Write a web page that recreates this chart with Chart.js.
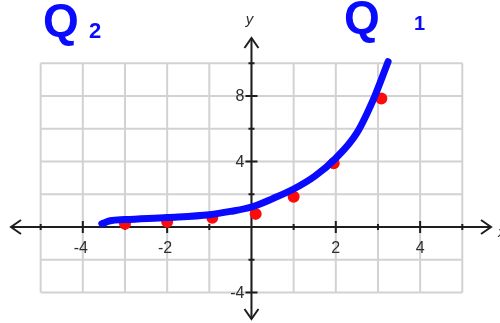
<!DOCTYPE html>
<html>
<head>
<meta charset="utf-8">
<script src="https://cdn.jsdelivr.net/npm/chart.js@4/dist/chart.umd.min.js"></script>
<style>
  html, body { margin: 0; padding: 0; background: #ffffff; }
  #wrap { width: 500px; height: 323px; }
</style>
</head>
<body>
<div id="wrap"><canvas id="c" width="500" height="323"></canvas></div>
<script>
// Plotted points of y = 2^x (red dots)
const dotX = [-3, -2, -0.93, 0.1, 1.0, 1.95, 3.08];
const dotY = [0.2, 0.32, 0.56, 0.8, 1.85, 3.9, 7.85];

// Sketched curve through the points (blue)
const curveX = [-3.55, -3.35, -3.0, -2.0, -1.0, -0.5, 0.0, 0.5, 1.0, 1.5, 2.0, 2.5, 2.92, 3.24];
const curveY = [0.2, 0.38, 0.45, 0.58, 0.75, 0.95, 1.22, 1.73, 2.32, 3.1, 4.2, 5.75, 7.97, 10.1];

// Grid extent and axis tick labels
const gridX = [-5, 5];
const gridY = [-4, 10];
const xTickLabels = [-4, -2, 2, 4];
const yTickLabels = [8, 4, -4];

const toPts = (xs, ys) => xs.map((x, i) => ({ x: x, y: ys[i] }));

const gridPlugin = {
  id: 'gridPlugin',
  beforeDatasetsDraw(chart) {
    const ctx = chart.ctx;
    const xs = chart.scales.x, ys = chart.scales.y;
    const px = v => xs.getPixelForValue(v);
    const py = v => ys.getPixelForValue(v);
    ctx.save();
    // light grid
    ctx.strokeStyle = '#d2d2d2';
    ctx.lineWidth = 2;
    ctx.beginPath();
    for (let v = gridX[0]; v <= gridX[1]; v++) {
      ctx.moveTo(px(v), py(gridY[0]));
      ctx.lineTo(px(v), py(gridY[1]));
    }
    for (let v = gridY[0]; v <= gridY[1]; v += 2) {
      ctx.moveTo(px(gridX[0]), py(v));
      ctx.lineTo(px(gridX[1]), py(v));
    }
    ctx.stroke();

    // axes
    const x0 = px(0), y0 = py(0);
    ctx.strokeStyle = '#1e1e1e';
    ctx.lineWidth = 2;
    ctx.beginPath();
    ctx.moveTo(11, y0); ctx.lineTo(491, y0);
    ctx.moveTo(x0, 38); ctx.lineTo(x0, 319);
    ctx.stroke();
    // arrowheads
    ctx.beginPath();
    ctx.moveTo(21, y0 - 7); ctx.lineTo(11, y0); ctx.lineTo(21, y0 + 7);
    ctx.moveTo(481, y0 - 7); ctx.lineTo(491, y0); ctx.lineTo(481, y0 + 7);
    ctx.moveTo(x0 - 7, 48); ctx.lineTo(x0, 38); ctx.lineTo(x0 + 7, 48);
    ctx.moveTo(x0 - 7, 309); ctx.lineTo(x0, 319); ctx.lineTo(x0 + 7, 309);
    ctx.stroke();

    // tick marks
    ctx.beginPath();
    for (let v = gridX[0]; v <= gridX[1]; v++) {
      if (v === 0) continue;
      const h = xTickLabels.includes(v) ? 6 : 3;
      ctx.moveTo(px(v), y0 - h); ctx.lineTo(px(v), y0 + h);
    }
    for (let v = gridY[0]; v <= gridY[1]; v += 2) {
      if (v === 0) continue;
      const w = yTickLabels.includes(v) ? 6 : 3;
      ctx.moveTo(x0 - w, py(v)); ctx.lineTo(x0 + w, py(v));
    }
    ctx.stroke();

    // tick labels
    ctx.fillStyle = '#2e2e2e';
    ctx.font = '16px "Liberation Sans", Arial, sans-serif';
    ctx.textAlign = 'center';
    ctx.textBaseline = 'middle';
    xTickLabels.forEach(v => {
      ctx.fillText(String(v), px(v) - (v < 0 ? 2 : 0), y0 + 22);
    });
    ctx.textAlign = 'right';
    yTickLabels.forEach(v => {
      ctx.fillText(String(v), x0 - 7, py(v) + 1);
    });

    // axis names
    ctx.font = 'italic 15px "Liberation Sans", Arial, sans-serif';
    ctx.textAlign = 'center';
    ctx.fillText('y', x0 - 2, 20);
    ctx.textAlign = 'left';
    ctx.fillText('x', 498, y0 + 6);
    ctx.restore();
  },
  afterDraw(chart) {
    // quadrant notes in blue marker
    const ctx = chart.ctx;
    ctx.save();
    ctx.fillStyle = '#0a0aff';
    ctx.textBaseline = 'alphabetic';
    ctx.textAlign = 'left';
    ctx.font = 'bold 46px "Liberation Sans", Arial, sans-serif';
    ctx.fillText('Q', 43, 36);
    ctx.fillText('Q', 344, 33);
    ctx.font = 'bold 22px "Liberation Sans", Arial, sans-serif';
    ctx.fillText('2', 89, 38);
    ctx.font = 'bold 20px "Liberation Sans", Arial, sans-serif';
    ctx.fillText('1', 414, 30);
    ctx.restore();
  }
};

new Chart(document.getElementById('c'), {
  type: 'scatter',
  data: {
    datasets: [
      {
        label: 'sketch',
        type: 'line',
        data: toPts(curveX, curveY),
        borderColor: '#0a0aff',
        borderWidth: 7,
        borderCapStyle: 'round',
        borderJoinStyle: 'round',
        pointRadius: 0,
        fill: false,
        tension: 0.4,
        cubicInterpolationMode: 'monotone',
        order: 0
      },
      {
        label: 'points',
        data: toPts(dotX, dotY),
        backgroundColor: '#ff0a0a',
        borderWidth: 0,
        pointRadius: 6,
        order: 1
      }
    ]
  },
  options: {
    responsive: false,
    animation: false,
    layout: { padding: 0 },
    plugins: { legend: { display: false }, tooltip: { enabled: false } },
    events: [],
    scales: {
      x: { type: 'linear', min: -5.822, max: 5.752, display: false },
      y: { type: 'linear', min: -5.5, max: 13.5, display: false }
    }
  },
  plugins: [gridPlugin]
});
</script>
</body>
</html>
